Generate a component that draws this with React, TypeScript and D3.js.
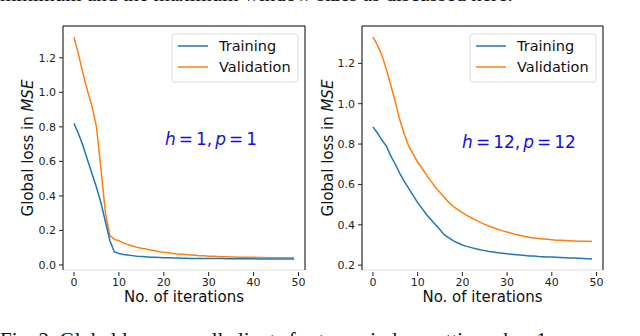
import React from 'react';
import * as d3 from 'd3';

const iterations = d3.range(0, 50);
const xTicks = [0, 10, 20, 30, 40, 50];

const trainA = [
  0.82, 0.76, 0.69, 0.61, 0.53, 0.45, 0.36, 0.25, 0.14, 0.075,
  0.066, 0.061, 0.057, 0.054, 0.051, 0.049, 0.047, 0.045, 0.044, 0.043,
  0.042, 0.041, 0.04, 0.04, 0.039, 0.039, 0.038, 0.038, 0.038, 0.037,
  0.037, 0.037, 0.037, 0.037, 0.036, 0.036, 0.036, 0.036, 0.036, 0.036,
  0.036, 0.035, 0.035, 0.035, 0.035, 0.035, 0.035, 0.035, 0.035, 0.035,
];
const validA = [
  1.32, 1.22, 1.11, 1.01, 0.92, 0.8, 0.56, 0.3, 0.17, 0.148,
  0.14, 0.128, 0.118, 0.11, 0.103, 0.097, 0.092, 0.087, 0.082, 0.077,
  0.073, 0.07, 0.067, 0.064, 0.062, 0.06, 0.058, 0.056, 0.054, 0.053,
  0.051, 0.05, 0.049, 0.048, 0.047, 0.046, 0.046, 0.045, 0.045, 0.044,
  0.044, 0.043, 0.043, 0.042, 0.042, 0.042, 0.041, 0.041, 0.041, 0.041,
];
const trainB = [
  0.885, 0.855, 0.82, 0.79, 0.74, 0.7, 0.655, 0.615, 0.58, 0.545,
  0.51, 0.48, 0.45, 0.425, 0.4, 0.375, 0.35, 0.335, 0.32, 0.31,
  0.3, 0.293, 0.287, 0.281, 0.276, 0.272, 0.268, 0.265, 0.262, 0.259,
  0.256, 0.254, 0.252, 0.25, 0.248, 0.246, 0.245, 0.243, 0.242, 0.241,
  0.24, 0.239, 0.238, 0.237, 0.236, 0.235, 0.234, 0.233, 0.232, 0.231,
];
const validB = [
  1.33, 1.29, 1.24, 1.17, 1.09, 1.01, 0.92, 0.85, 0.79, 0.75,
  0.71, 0.68, 0.645, 0.615, 0.585, 0.56, 0.535, 0.51, 0.49, 0.475,
  0.46, 0.447, 0.435, 0.423, 0.412, 0.402, 0.393, 0.385, 0.377, 0.37,
  0.364, 0.358, 0.352, 0.347, 0.342, 0.338, 0.335, 0.332, 0.33, 0.328,
  0.326, 0.324, 0.323, 0.322, 0.321, 0.32, 0.319, 0.318, 0.318, 0.317,
];
const yTicksA = [0.0, 0.2, 0.4, 0.6, 0.8, 1.0, 1.2];
const yTicksB = [0.2, 0.4, 0.6, 0.8, 1.0, 1.2];
const seriesNames = ['Training', 'Validation'];
const colors = ['#1f77b4', '#ff7f0e'];

const font = 'DejaVu Sans, sans-serif';

// matplotlib style 5% padding
function padded(ext) {
  const d = (ext[1] - ext[0]) * 0.05;
  return [ext[0] - d, ext[1] + d];
}

function Panel({ left, right, train, valid, yTicks, hLabel, pLabel, ylabelX, annX, annY }) {
  const top = 26;
  const bottom = 270;
  const x = d3.scaleLinear().domain(padded([0, 49])).range([left, right]);
  const y = d3
    .scaleLinear()
    .domain(padded(d3.extent([...train, ...valid])))
    .range([bottom, top]);
  const line = d3
    .line()
    .x((d, i) => x(iterations[i]))
    .y((d) => y(d));

  const legX = right - 133;

  return (
    <g>
      {[valid, train].map((s, k) => (
        <path key={k} d={line(s)} fill="none" stroke={colors[1 - k]} strokeWidth={1.5} />
      ))}
      <line x1={left} x2={right} y1={bottom} y2={bottom} stroke="#ddd" strokeWidth={1} />
      <path d={`M${left},${bottom}V${top}H${right}V${bottom}`} fill="none" stroke="#000" strokeWidth={1} />
      {yTicks.map((t) => (
        <g key={t} transform={`translate(${left},${y(t)})`}>
          <line x1={-4} x2={0} stroke="#222" />
          <text x={-7} dy="0.35em" textAnchor="end" fontSize={11} fill="#222" fontFamily={font}>
            {d3.format('.1f')(t)}
          </text>
        </g>
      ))}
      {xTicks.map((t) => (
        <g key={t} transform={`translate(${x(t)},${bottom})`}>
          <line y1={2} y2={6} stroke="#222" />
          <text y={16} textAnchor="middle" fontSize={11} fill="#222" fontFamily={font}>
            {t}
          </text>
        </g>
      ))}
      <text x={(left + right) / 2} y={302} textAnchor="middle" fontSize={15} fontFamily={font} fill="#111">
        No. of iterations
      </text>
      <text
        transform={`translate(${ylabelX},${(top + bottom) / 2}) rotate(-90)`}
        textAnchor="middle"
        fontSize={15}
        fontFamily={font}
        fill="#111"
      >
        Global loss in <tspan fontStyle="italic">MSE</tspan>
      </text>
      <rect x={legX} y={34} width={126} height={48} rx={3} fill="#fff" fillOpacity={0.8} stroke="#ddd" />
      {seriesNames.map((n, i) => (
        <g key={n} transform={`translate(${legX},${46 + i * 21})`}>
          <line x1={6} x2={36} stroke={colors[i]} strokeWidth={1.5} />
          <text x={47} dy="0.35em" fontSize={14.5} fontFamily={font} fill="#111">
            {n}
          </text>
        </g>
      ))}
      <text x={annX} y={annY} textAnchor="middle" fontSize={17} fontFamily={font} fill="#1010e0">
        <tspan fontStyle="italic">h</tspan>
        <tspan dx={3}>=</tspan>
        <tspan dx={3}>{hLabel},</tspan>
        <tspan dx={3} fontStyle="italic">p</tspan>
        <tspan dx={3}>=</tspan>
        <tspan dx={3}>{pLabel}</tspan>
      </text>
    </g>
  );
}

export default function App() {
  return (
    <svg
      width={640}
      height={336}
      style={{ position: 'absolute', left: 0, top: 0, background: '#fff' }}
    >
      <text x={0} y={1} fontSize={21} fontFamily="Liberation Serif, serif" fill="#111">
        minimum and the maximum window sizes as discussed here.
      </text>
      <text x={0} y={347} fontSize={21} fontFamily="Liberation Serif, serif" fill="#111">
        Fig. 2.   Global loss over all clients for two window settings: h = 1
      </text>
      <Panel left={63} right={305} train={trainA} valid={validA} yTicks={yTicksA} hLabel="1" pLabel="1" ylabelX={33} annX={211} annY={145} />
      <Panel left={362} right={603} train={trainB} valid={validB} yTicks={yTicksB} hLabel="12" pLabel="12" ylabelX={333} annX={519} annY={148} />
    </svg>
  );
}
